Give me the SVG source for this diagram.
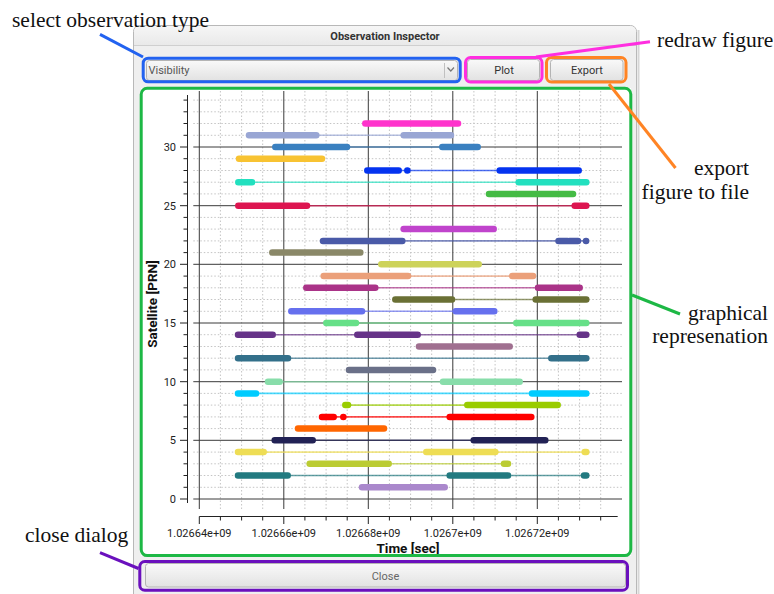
<svg xmlns="http://www.w3.org/2000/svg" width="774" height="594" viewBox="0 0 774 594">
<defs>
<linearGradient id="btn" x1="0" y1="0" x2="0" y2="1"><stop offset="0" stop-color="#f9f9f9"/><stop offset="1" stop-color="#e2e2e2"/></linearGradient>
<linearGradient id="title" x1="0" y1="0" x2="0" y2="1"><stop offset="0" stop-color="#f6f6f6"/><stop offset="1" stop-color="#e9e9e9"/></linearGradient>
</defs>
<style>
.ann{font-family:"Liberation Serif","Times New Roman",serif;font-size:21.5px;fill:#111}
.ui{font-family:Roboto,"Liberation Sans",Arial,sans-serif;font-size:11px;fill:#333}
.tick{font-family:Roboto,"Liberation Sans",Arial,sans-serif;font-size:11px;fill:#222}
.axl{font-family:Roboto,"Liberation Sans",Arial,sans-serif;font-size:13.5px;font-weight:bold;fill:#111}
.hl{fill:none;stroke-width:3}
.con{stroke-width:3;stroke-linecap:butt;fill:none}
.btn{fill:url(#btn);stroke:#b4b4b4;stroke-width:1}
.minor{stroke:#c4c4c4;stroke-width:1;stroke-dasharray:1.5 2;fill:none}
.major{stroke:#3a3a3a;stroke-width:1;fill:none}
.thin{fill:none;stroke-width:1.6;opacity:.7}
.thick{fill:none;stroke-width:6.5;stroke-linecap:round}
</style>

<!-- dialog window -->
<g id="dialog">
<rect x="133.5" y="25.5" width="503" height="600" rx="6" fill="#efefef" stroke="#b8b8b8"/>
<path d="M134 45 V31.5 a5.5 5.5 0 0 1 5.5 -5.5 H630.5 a5.5 5.5 0 0 1 5.5 5.5 V45 Z" fill="url(#title)"/>
<line x1="134" y1="45.5" x2="636" y2="45.5" stroke="#cfcfcf"/>
<line x1="638.5" y1="30" x2="638.5" y2="594" stroke="#d6d6d6" stroke-width="2"/>
<text x="385" y="40" text-anchor="middle" class="ui" style="font-weight:bold;fill:#333">Observation Inspector</text>
</g>

<g id="combo">
<rect x="146.5" y="60.5" width="311" height="20" rx="3" class="btn"/>
<line x1="444.5" y1="63" x2="444.5" y2="78" stroke="#c0c0c0"/>
<path d="M447.5 67.5 L450.8 71 L454 67.5" fill="none" stroke="#777" stroke-width="1.2"/>
<text x="148.5" y="74" class="ui" style="fill:#555">Visibility</text>
</g>
<g id="plot-button">
<rect x="467.5" y="59.5" width="72" height="21" rx="3" class="btn"/>
<text x="504" y="74" text-anchor="middle" class="ui">Plot</text>
</g>
<g id="export-button">
<rect x="550.5" y="59.5" width="72.5" height="21" rx="3" class="btn"/>
<text x="587" y="74" text-anchor="middle" class="ui">Export</text>
</g>
<g id="close-button">
<rect x="145.5" y="563.5" width="480" height="23.5" rx="3" class="btn"/>
<text x="385.5" y="579.5" text-anchor="middle" class="ui" style="fill:#666">Close</text>
</g>

<!-- plot -->
<g id="plot">
<rect x="141" y="88" width="490" height="468" fill="#ffffff"/>
<g id="grid">
<path class="minor" d="M193.3 100.1H622M193.3 111.8H622M193.3 123.5H622M193.3 135.3H622M193.3 158.7H622M193.3 170.5H622M193.3 182.2H622M193.3 193.9H622M193.3 217.4H622M193.3 229.1H622M193.3 240.9H622M193.3 252.6H622M193.3 276.1H622M193.3 287.8H622M193.3 299.5H622M193.3 311.3H622M193.3 334.7H622M193.3 346.5H622M193.3 358.2H622M193.3 369.9H622M193.3 393.4H622M193.3 405.1H622M193.3 416.9H622M193.3 428.6H622M193.3 452.1H622M193.3 463.8H622M193.3 475.5H622M193.3 487.3H622"/>
<path class="minor" d="M220.4 91V509M241.6 91V509M262.7 91V509M304.9 91V509M326.1 91V509M347.2 91V509M389.4 91V509M410.6 91V509M431.7 91V509M473.9 91V509M495.1 91V509M516.2 91V509M558.4 91V509M579.6 91V509M600.7 91V509"/>
<path class="major" d="M193.3 147H622M193.3 205.7H622M193.3 264.3H622M193.3 323H622M193.3 381.7H622M193.3 440.3H622M193.3 499H622"/>
<path class="major" d="M199.3 91V509M283.8 91V509M368.3 91V509M452.8 91V509M537.3 91V509"/>
</g>
<g id="axes" stroke="#222" stroke-width="1" fill="none">
<path d="M187.5 95V503"/>
<path d="M183.5 100.1H187.5M183.5 111.8H187.5M183.5 123.5H187.5M183.5 135.3H187.5M183.5 158.7H187.5M183.5 170.5H187.5M183.5 182.2H187.5M183.5 193.9H187.5M183.5 217.4H187.5M183.5 229.1H187.5M183.5 240.9H187.5M183.5 252.6H187.5M183.5 276.1H187.5M183.5 287.8H187.5M183.5 299.5H187.5M183.5 311.3H187.5M183.5 334.7H187.5M183.5 346.5H187.5M183.5 358.2H187.5M183.5 369.9H187.5M183.5 393.4H187.5M183.5 405.1H187.5M183.5 416.9H187.5M183.5 428.6H187.5M183.5 452.1H187.5M183.5 463.8H187.5M183.5 475.5H187.5M183.5 487.3H187.5"/>
<path d="M180 147H187.5M180 205.7H187.5M180 264.3H187.5M180 323H187.5M180 381.7H187.5M180 440.3H187.5M180 499H187.5"/>
<path d="M199.3 516.5H617.7"/>
<path d="M199.3 516.5V524M283.8 516.5V524M368.3 516.5V524M452.8 516.5V524M537.3 516.5V524"/>
<path d="M220.4 516.5V520.5M241.6 516.5V520.5M262.7 516.5V520.5M304.9 516.5V520.5M326.1 516.5V520.5M347.2 516.5V520.5M389.4 516.5V520.5M410.6 516.5V520.5M431.7 516.5V520.5M473.9 516.5V520.5M495.1 516.5V520.5M516.2 516.5V520.5M558.4 516.5V520.5M579.6 516.5V520.5M600.7 516.5V520.5"/>
</g>
<g id="tick-labels" class="tick">
<text x="176" y="151" text-anchor="end">30</text>
<text x="176" y="209.7" text-anchor="end">25</text>
<text x="176" y="268.3" text-anchor="end">20</text>
<text x="176" y="327" text-anchor="end">15</text>
<text x="176" y="385.7" text-anchor="end">10</text>
<text x="176" y="444.3" text-anchor="end">5</text>
<text x="176" y="503" text-anchor="end">0</text>
<text x="199.3" y="537" text-anchor="middle">1.02664e+09</text>
<text x="283.8" y="537" text-anchor="middle">1.02666e+09</text>
<text x="368.3" y="537" text-anchor="middle">1.02668e+09</text>
<text x="452.8" y="537" text-anchor="middle">1.0267e+09</text>
<text x="537.3" y="537" text-anchor="middle">1.02672e+09</text>
</g>
<text x="408" y="553" text-anchor="middle" class="axl">Time [sec]</text>
<text transform="translate(157,304) rotate(-90)" text-anchor="middle" class="axl">Satellite [PRN]</text>

<g id="data">
<g stroke="#ff33cc"><path class="thick" d="M365.3 123.5H458"/></g>
<g stroke="#99a6d4"><path class="thin" d="M249 135.3H451"/><path class="thick" d="M249 135.3H316.3M403.7 135.3H451"/></g>
<g stroke="#3a80c0"><path class="thin" d="M275.3 147H477.7"/><path class="thick" d="M275.3 147H347M442.3 147H477.7"/></g>
<g stroke="#f8c332"><path class="thick" d="M239 158.7H322"/></g>
<g stroke="#0433f0"><path class="thin" d="M367.3 170.5H578.7"/><path class="thick" d="M367.3 170.5H398.7M407.3 170.5H407.4M499.7 170.5H578.7"/></g>
<g stroke="#22e0bf"><path class="thin" d="M238.3 182.2H586.3"/><path class="thick" d="M238.3 182.2H252M518.7 182.2H586.3"/></g>
<g stroke="#44bb44"><path class="thick" d="M489 193.9H573"/></g>
<g stroke="#dd1550"><path class="thin" d="M238.3 205.7H586.3"/><path class="thick" d="M238.3 205.7H307M574.7 205.7H586.3"/></g>
<g stroke="#c044cc"><path class="thick" d="M403.7 229.1H493.7"/></g>
<g stroke="#4a5aa8"><path class="thin" d="M323 240.9H585.7"/><path class="thick" d="M323 240.9H402.3M558.5 240.9H567.5M569.5 240.9H578M586 240.9H586.1"/></g>
<g stroke="#8a8868"><path class="thick" d="M272.3 252.6H360.3"/></g>
<g stroke="#cdd35a"><path class="thick" d="M381.3 264.3H478.7"/></g>
<g stroke="#eba07a"><path class="thin" d="M323.7 276.1H533"/><path class="thick" d="M323.7 276.1H408M512.3 276.1H533"/></g>
<g stroke="#aa3388"><path class="thin" d="M306.3 287.8H579.7"/><path class="thick" d="M306.3 287.8H375.3M538 287.8H579.7"/></g>
<g stroke="#6a7035"><path class="thin" d="M395.3 299.5H586.3"/><path class="thick" d="M395.3 299.5H452M535.7 299.5H586.3"/></g>
<g stroke="#6670ee"><path class="thin" d="M291.3 311.3H494.3"/><path class="thick" d="M291.3 311.3H362M455.7 311.3H494.3"/></g>
<g stroke="#66e088"><path class="thin" d="M326.3 323H586.3"/><path class="thick" d="M326.3 323H356M516.3 323H586.3"/></g>
<g stroke="#663388"><path class="thin" d="M238 334.7H586.3"/><path class="thick" d="M238 334.7H272.7M357.3 334.7H417.7M579.7 334.7H586.3"/></g>
<g stroke="#a07090"><path class="thick" d="M419 346.5H509.7"/></g>
<g stroke="#33708a"><path class="thin" d="M238 358.2H586.3"/><path class="thick" d="M238 358.2H288M551.3 358.2H586.3"/></g>
<g stroke="#6a7088"><path class="thick" d="M349 369.9H433"/></g>
<g stroke="#88ddaa"><path class="thin" d="M268 381.7H519.7"/><path class="thick" d="M268 381.7H279.7M443 381.7H519.7"/></g>
<g stroke="#00ccff"><path class="thin" d="M238 393.4H586.3"/><path class="thick" d="M238 393.4H256M532 393.4H586.3"/></g>
<g stroke="#99cc00"><path class="thin" d="M345.3 405.1H557.7"/><path class="thick" d="M345.3 405.1H348M467.3 405.1H557.7"/></g>
<g stroke="#ff0000"><path class="thin" d="M322 416.9H531.3"/><path class="thick" d="M322 416.9H333.7M343.3 416.9H343.4M449.7 416.9H531.3"/></g>
<g stroke="#ff6600"><path class="thick" d="M298 428.6H384"/></g>
<g stroke="#222255"><path class="thin" d="M274.7 440.3H545.3"/><path class="thick" d="M274.7 440.3H312.7M473.7 440.3H545.3"/></g>
<g stroke="#eedd55"><path class="thin" d="M238 452.1H586.3"/><path class="thick" d="M238 452.1H263.7M426.3 452.1H495.3M584.7 452.1H586.3"/></g>
<g stroke="#bbcc33"><path class="thin" d="M309.7 463.8H508"/><path class="thick" d="M309.7 463.8H388.7M504 463.8H508"/></g>
<g stroke="#227a80"><path class="thin" d="M238 475.5H586.3"/><path class="thick" d="M238 475.5H287.7M449.7 475.5H508M584 475.5H586.3"/></g>
<g stroke="#aa88cc"><path class="thick" d="M362 487.3H444.7"/></g>
</g>
</g>

<!-- annotation highlights -->
<g id="hl-select"><rect x="143.2" y="58.2" width="317" height="23.6" rx="5" class="hl" stroke="#2262f0"/></g>
<g id="hl-plot"><rect x="465.5" y="57.5" width="76.5" height="24.5" rx="5" class="hl" stroke="#ff2ee0"/></g>
<g id="hl-export"><rect x="546.5" y="57.5" width="79.5" height="24.5" rx="5" class="hl" stroke="#ff8424"/></g>
<g id="hl-graph"><rect x="141.2" y="88.2" width="489.6" height="467.4" rx="6" class="hl" stroke="#1db845"/></g>
<g id="hl-close"><rect x="139.8" y="561.5" width="487.7" height="28.7" rx="5" class="hl" stroke="#6a10bd"/></g>

<!-- annotation labels -->
<g id="label-select"><text x="12" y="27" class="ann">select observation type</text></g>
<g id="label-redraw"><text x="657" y="47" class="ann">redraw figure</text></g>
<g id="label-export"><text x="749" y="175" text-anchor="end" class="ann">export</text><text x="749" y="199" text-anchor="end" class="ann">figure to file</text></g>
<g id="label-graph"><text x="768" y="320" text-anchor="end" class="ann">graphical</text><text x="768" y="343" text-anchor="end" class="ann">represenation</text></g>
<g id="label-close"><text x="25" y="542" class="ann">close dialog</text></g>

<!-- connectors -->
<g id="connectors">
<line x1="100" y1="34.3" x2="143" y2="57" class="con" stroke="#2262f0"/>
<line x1="650" y1="41.7" x2="536" y2="57" class="con" stroke="#ff2ee0"/>
<line x1="609" y1="84" x2="675.5" y2="168" class="con" stroke="#ff8424"/>
<line x1="632" y1="295" x2="680" y2="314" class="con" stroke="#1db845"/>
<line x1="100" y1="552.7" x2="138.5" y2="568.5" class="con" stroke="#6a10bd"/>
</g>
</svg>
